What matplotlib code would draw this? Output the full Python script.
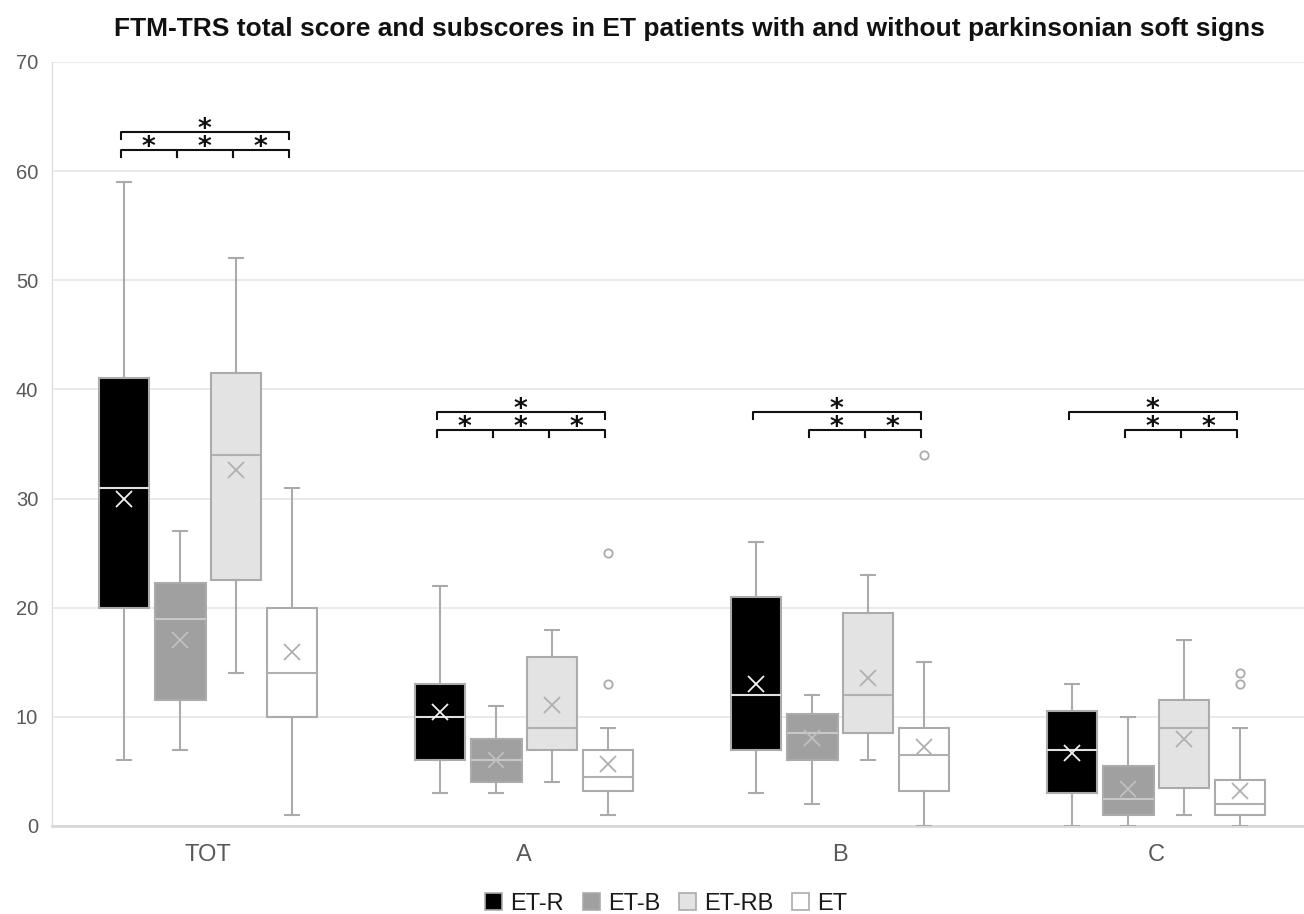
import matplotlib
matplotlib.use("Agg")
import matplotlib.pyplot as plt
from matplotlib.patches import Patch

plt.rcParams['font.family'] = ['Liberation Sans', 'DejaVu Sans']

categories = ['TOT', 'A', 'B', 'C']
groups = ['ET-R', 'ET-B', 'ET-RB', 'ET']

# five-number summaries per category: [whisker low, q1, median, q3, whisker high]
et_r_box = [[6, 20, 31, 41, 59], [3, 6, 10, 13, 22], [3, 7, 12, 21, 26], [0, 3, 7, 10.5, 13]]
et_r_mean = [30.0, 10.4, 13.0, 6.7]
et_r_out = [[], [], [], []]

et_b_box = [[7, 11.5, 19, 22.3, 27], [3, 4, 6, 8, 11], [2, 6, 8.5, 10.25, 12], [0, 1, 2.5, 5.5, 10]]
et_b_mean = [17.0, 6.0, 8.1, 3.4]
et_b_out = [[], [], [], []]

et_rb_box = [[14, 22.5, 34, 41.5, 52], [4, 7, 9, 15.5, 18], [6, 8.5, 12, 19.5, 23], [1, 3.5, 9, 11.5, 17]]
et_rb_mean = [32.6, 11.1, 13.6, 8.0]
et_rb_out = [[], [], [], []]

et_box = [[1, 10, 14, 20, 31], [1, 3.25, 4.5, 7, 9], [0, 3.25, 6.5, 9, 15], [0, 1, 2, 4.25, 9]]
et_mean = [15.9, 5.7, 7.2, 3.2]
et_out = [[], [25, 13], [34], [14, 13]]

# significance brackets: (category, group from, group to, row)
sig_pairs = [(0, 0, 1, 0), (0, 1, 2, 0), (0, 2, 3, 0), (0, 0, 3, 1),
             (1, 0, 1, 0), (1, 1, 2, 0), (1, 2, 3, 0), (1, 0, 3, 1),
             (2, 1, 2, 0), (2, 2, 3, 0), (2, 0, 3, 1),
             (3, 1, 2, 0), (3, 2, 3, 0), (3, 0, 3, 1)]
sig_level = [61.9, 36.3, 36.3, 36.3]

all_box = [et_r_box, et_b_box, et_rb_box, et_box]
all_mean = [et_r_mean, et_b_mean, et_rb_mean, et_mean]
all_out = [et_r_out, et_b_out, et_rb_out, et_out]
fills = ['#000000', '#a0a0a0', '#e3e3e3', '#ffffff']
med_cols = ['#e0e0e0', '#c8c8c8', '#b0b0b0', '#b0b0b0']
mean_cols = ['#f2f2f2', '#c0c0c0', '#b0b0b0', '#b0b0b0']
offsets = [-0.266, -0.088, 0.088, 0.266]
edge = '#ababab'

fig = plt.figure(figsize=(13.04, 9.14), dpi=100)
ax = fig.add_axes([0.0399, 0.0963, 0.9601, 0.8359])

for g in range(4):
    stats = []
    for c in range(4):
        lo, q1, med, q3, hi = all_box[g][c]
        stats.append(dict(whislo=lo, q1=q1, med=med, q3=q3, whishi=hi,
                          mean=all_mean[g][c], fliers=all_out[g][c]))
    pos = [c + offsets[g] for c in range(4)]
    ax.bxp(stats, positions=pos, widths=0.16, patch_artist=True,
           showmeans=True, capwidths=0.045,
           boxprops=dict(facecolor=fills[g], edgecolor=edge, linewidth=1.5),
           medianprops=dict(color=med_cols[g], linewidth=1.5),
           whiskerprops=dict(color=edge, linewidth=1.5),
           capprops=dict(color=edge, linewidth=1.5),
           meanprops=dict(marker='x', markeredgecolor=mean_cols[g],
                          markersize=11, markeredgewidth=1.3),
           flierprops=dict(marker='o', markerfacecolor='none',
                           markeredgecolor=edge, markersize=6, markeredgewidth=1.3),
           manage_ticks=False, zorder=3)

# significance brackets
tick_h = 0.65
row_gap = 1.65
for c, i, j, row in sig_pairs:
    x0 = c + offsets[i] - 0.01
    x1 = c + offsets[j] - 0.01
    y = sig_level[c] + row * row_gap
    ax.plot([x0, x0, x1, x1], [y - tick_h, y, y, y - tick_h],
            color='#111111', linewidth=1.5, zorder=4)
    ax.text((x0 + x1) / 2, y + 0.37, r'$\mathbf{*}$', ha='center', va='center',
            fontsize=19, color='#111111')

ax.set_xlim(-0.494, 3.468)
ax.set_ylim(0, 70)
ax.set_yticks(range(0, 71, 10))
ax.set_xticks(range(4))
ax.set_xticklabels(categories)
ax.yaxis.grid(True, color='#e6e6e6', linewidth=1.2)
ax.set_axisbelow(True)
for s in ['top', 'right']:
    ax.spines[s].set_visible(False)
ax.spines['left'].set_color('#d9d9d9')
ax.spines['bottom'].set_color('#d9d9d9')
ax.spines['bottom'].set_linewidth(2)
ax.tick_params(axis='both', length=0, labelcolor='#595959')
ax.tick_params(axis='y', pad=10, labelsize=14.5)
ax.tick_params(axis='x', pad=13, labelsize=17)

fig.text(0.529, 0.968,
         'FTM-TRS total score and subscores in ET patients with and without parkinsonian soft signs',
         ha='center', va='center', fontsize=19, fontweight='bold', color='#111111')

handles = [Patch(facecolor=fills[g], edgecolor=edge, linewidth=1.2) for g in range(4)]
fig.legend(handles, groups, loc='center', bbox_to_anchor=(0.511, 0.011), ncol=4,
           frameon=False, fontsize=17, handlelength=0.72, handleheight=0.72,
           handletextpad=0.34, columnspacing=0.8, labelcolor='#1a1a1a')

fig.savefig('out.png', dpi=100)
